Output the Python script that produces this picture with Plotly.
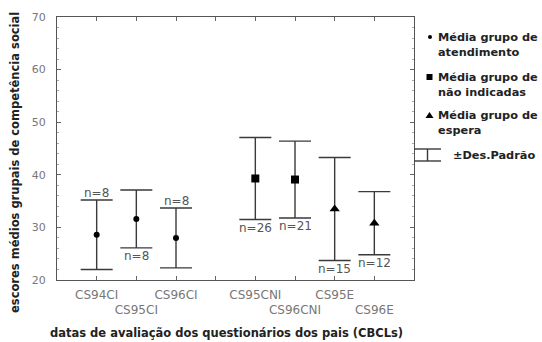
import plotly.graph_objects as go

# ---- data ----
categories = ["CS94CI", "CS95CI", "CS96CI", "", "CS95CNI", "CS96CNI", "CS95E", "CS96E"]
tick_rows = [1, 2, 1, 1, 1, 2, 1, 2]

g1_x = [1, 2, 3]
g1_mean = [28.6, 31.6, 28.0]
g1_sd = [6.6, 5.5, 5.7]
g1_n = ["n=8", "n=8", "n=8"]
g1_label_side = ["top", "bottom", "top"]

g2_x = [5, 6]
g2_mean = [39.3, 39.1]
g2_sd = [7.8, 7.3]
g2_n = ["n=26", "n=21"]
g2_label_side = ["bottom", "bottom"]

g3_x = [7, 8]
g3_mean = [33.5, 30.8]
g3_sd = [9.8, 6.0]
g3_n = ["n=15", "n=12"]
g3_label_side = ["bottom", "bottom"]

y_title = "escores médios grupais de competência social"
x_title = "datas de avaliação dos questionários dos pais (CBCLs)"
legend_labels = ["Média grupo de<br>atendimento", "Média grupo de<br>não indicadas",
                 "Média grupo de<br>espera", "±Des.Padrão"]

# ---- figure ----
W, H = 542, 342
L, R, T, B = 57, 128, 17, 62
pw, ph = W - L - R, H - T - B

def px_x(px):
    return (px - L) / pw

def px_y(py):
    return (H - B - py) / ph

bar_col = "#3a3a3a"
err = dict(type="data", visible=True, thickness=1.4, width=16, color=bar_col)

fig = go.Figure()
groups = [
    (g1_x, g1_mean, g1_sd, g1_n, g1_label_side, "circle", 6),
    (g2_x, g2_mean, g2_sd, g2_n, g2_label_side, "square", 8),
    (g3_x, g3_mean, g3_sd, g3_n, g3_label_side, "triangle-up", 9),
]
annotations = []
for xs, ms, sds, ns, sides, sym, sz in groups:
    fig.add_trace(go.Scatter(
        x=xs, y=ms, mode="markers",
        marker=dict(symbol=sym, size=sz, color="black"),
        error_y=dict(array=sds, **err), showlegend=False, hoverinfo="skip"))
    for x, m, s, n, side in zip(xs, ms, sds, ns, sides):
        if side == "top":
            annotations.append(dict(x=x, y=m + s, text=n, showarrow=False, yanchor="bottom",
                                    yshift=-2, font=dict(family="DejaVu Sans", size=12, color="#555")))
        else:
            annotations.append(dict(x=x, y=m - s, text=n, showarrow=False, yanchor="top",
                                    yshift=1, font=dict(family="DejaVu Sans", size=12, color="#555")))

ticktext = [("<br>" + c) if r == 2 else c for c, r in zip(categories, tick_rows)]

axis_common = dict(showline=True, linecolor="#555", linewidth=1.2, mirror="ticks",
                   ticks="inside", ticklen=4, tickcolor="#666", showgrid=False, zeroline=False)

fig.update_layout(
    width=W, height=H, margin=dict(l=L, r=R, t=T, b=B),
    plot_bgcolor="white", paper_bgcolor="white",
    xaxis=dict(range=[0, 9], tickmode="array", tickvals=list(range(1, 9)), ticktext=ticktext,
               tickangle=0,
               tickfont=dict(family="DejaVu Sans", size=12, color="#777"),
               ticklabelstandoff=3, **axis_common),
    yaxis=dict(range=[20, 70], dtick=10, tickfont=dict(family="DejaVu Sans", size=11, color="#777"),
               ticklabelstandoff=8,
               minor=dict(ticks="inside", ticklen=2, dtick=2, tickcolor="#aaa"),
               **axis_common),
)

# axis titles
title_font = dict(family="DejaVu Sans", size=11.5, color="#222")
annotations.append(dict(xref="paper", yref="paper", x=px_x(15), y=px_y(163), text="<b>" + y_title + "</b>",
                        textangle=-90, showarrow=False, xanchor="center", yanchor="middle",
                        font=title_font))
annotations.append(dict(xref="paper", yref="paper", x=px_x(226), y=px_y(333), text="<b>" + x_title + "</b>",
                        showarrow=False, xanchor="center", yanchor="middle",
                        font=title_font))

# legend (manual)
lg_font = dict(family="DejaVu Sans", size=11.3, color="#222")
tops = [29, 69, 107]
for lab, top in zip(legend_labels[:3], tops):
    annotations.append(dict(xref="paper", yref="paper", x=px_x(436), y=px_y(top), text="<b>" + lab + "</b>",
                            showarrow=False, xanchor="left", yanchor="top", align="left", font=lg_font))
annotations.append(dict(xref="paper", yref="paper", x=px_x(451), y=px_y(155), text="<b>" + legend_labels[3] + "</b>",
                        showarrow=False, xanchor="left", yanchor="middle", align="left", font=lg_font))

shapes = []
shapes.append(dict(type="circle", xref="paper", yref="paper", x0=px_x(428), x1=px_x(432),
                   y0=px_y(39), y1=px_y(35), fillcolor="black", line=dict(width=0)))
shapes.append(dict(type="rect", xref="paper", yref="paper", x0=px_x(426.5), x1=px_x(432.5),
                   y0=px_y(80), y1=px_y(74), fillcolor="black", line=dict(width=0)))
shapes.append(dict(type="path", xref="paper", yref="paper",
                   path=f"M {px_x(425.5)} {px_y(118)} L {px_x(433.5)} {px_y(118)} L {px_x(429.5)} {px_y(112)} Z",
                   fillcolor="black", line=dict(width=0)))
for y in (149, 161):
    shapes.append(dict(type="line", xref="paper", yref="paper", x0=px_x(414), x1=px_x(441),
                       y0=px_y(y), y1=px_y(y), line=dict(color=bar_col, width=1.4)))
shapes.append(dict(type="line", xref="paper", yref="paper", x0=px_x(427.5), x1=px_x(427.5),
                   y0=px_y(149), y1=px_y(161), line=dict(color=bar_col, width=1.4)))

fig.update_layout(annotations=annotations, shapes=shapes)
fig.write_html("out.html")
